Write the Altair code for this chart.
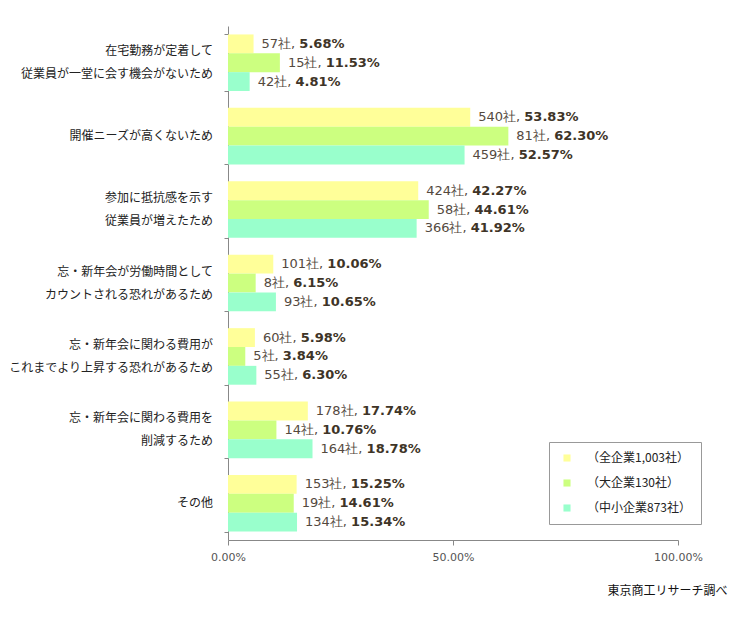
import altair as alt
import pandas as pd

categories = [
    "在宅勤務が定着して\n従業員が一堂に会す機会がないため",
    "開催ニーズが高くないため",
    "参加に抵抗感を示す\n従業員が増えたため",
    "忘・新年会が労働時間として\nカウントされる恐れがあるため",
    "忘・新年会に関わる費用が\nこれまでより上昇する恐れがあるため",
    "忘・新年会に関わる費用を\n削減するため",
    "その他",
]
series = ["（全企業1,003社）", "（大企業130社）", "（中小企業873社）"]
colors = ["#FFFF99", "#CCFF80", "#99FFCC"]

all_counts = [57, 540, 424, 101, 60, 178, 153]
all_pct = [5.68, 53.83, 42.27, 10.06, 5.98, 17.74, 15.25]
large_counts = [15, 81, 58, 8, 5, 14, 19]
large_pct = [11.53, 62.30, 44.61, 6.15, 3.84, 10.76, 14.61]
small_counts = [42, 459, 366, 93, 55, 164, 134]
small_pct = [4.81, 52.57, 41.92, 10.65, 6.30, 18.78, 15.34]

PLOT_W = 450

rows = []
for s, cnts, pcts in zip(series, [all_counts, large_counts, small_counts],
                         [all_pct, large_pct, small_pct]):
    for c, n, p in zip(categories, cnts, pcts):
        lead = f"{n}社, "
        # approximate pixel width of the lead text (13px DejaVu Sans + CJK glyph)
        w = len(str(n)) * 8.27 + 13 + 8.27
        rows.append({"cat": c, "series": s, "value": p / 100.0,
                     "lead": lead, "pct": f"{p:.2f}%",
                     "xpos": p / 100.0 + (8 + w) / PLOT_W})
df = pd.DataFrame(rows)

lab_rows = []
for c in categories:
    parts = c.split("\n")
    if len(parts) == 2:
        lab_rows.append({"cat": c, "top": parts[0], "bot": parts[1], "single": ""})
    else:
        lab_rows.append({"cat": c, "top": "", "bot": "", "single": parts[0]})
labdf = pd.DataFrame(lab_rows)

y_scale = alt.Scale(domain=categories, paddingInner=0.23, paddingOuter=0.115)
y_enc = alt.Y("cat:N", sort=categories, title=None, scale=y_scale,
              axis=alt.Axis(labels=False, tickBand="extent", tickSize=4,
                            tickColor="#888888", domainColor="#888888"))
yoff = alt.YOffset("series:N", sort=series, scale=alt.Scale(paddingInner=0, paddingOuter=0))
x_enc = alt.X("value:Q", title=None,
              scale=alt.Scale(domain=[0, 1], nice=False),
              axis=alt.Axis(values=[0, 0.5, 1], format=".2%", grid=False,
                            tickSize=5, tickColor="#888888", domainColor="#888888",
                            labelFontSize=11, labelFont="DejaVu Sans",
                            labelColor="#555555", labelPadding=6, labelFlush=False))

base = alt.Chart(df)

bars = base.mark_bar().encode(
    x=x_enc, y=y_enc, yOffset=yoff,
    color=alt.Color("series:N", sort=series,
                    scale=alt.Scale(domain=series, range=colors),
                    legend=alt.Legend(title=None, orient="none", legendX=321, legendY=416,
                                      symbolType="square", symbolSize=50,
                                      symbolStrokeWidth=0, labelFontSize=12,
                                      labelFont="Noto Sans CJK JP", labelColor="#222222",
                                      strokeColor="#999999", padding=10, rowPadding=13,
                                      labelOffset=14, symbolOffset=2)),
)

lead_text = base.mark_text(align="left", baseline="middle", dx=8, fontSize=13,
                           font="DejaVu Sans", color="#54493e").encode(
    x="value:Q", y=alt.Y("cat:N", sort=categories), yOffset=yoff, text="lead:N")

pct_text = base.mark_text(align="left", baseline="middle", fontSize=13,
                          font="DejaVu Sans", fontWeight="bold", color="#3e3427").encode(
    x="xpos:Q", y=alt.Y("cat:N", sort=categories), yOffset=yoff, text="pct:N")

lab_base = alt.Chart(labdf)
lab_style = dict(align="right", baseline="middle", fontSize=12,
                 font="Noto Sans CJK JP", color="#222222")
lab_top = lab_base.mark_text(dy=-11.5, **lab_style).encode(
    x=alt.value(-15), y=alt.Y("cat:N", sort=categories), text="top:N")
lab_bot = lab_base.mark_text(dy=11.5, **lab_style).encode(
    x=alt.value(-15), y=alt.Y("cat:N", sort=categories), text="bot:N")
lab_single = lab_base.mark_text(**lab_style).encode(
    x=alt.value(-15), y=alt.Y("cat:N", sort=categories), text="single:N")

chart = alt.layer(bars, lead_text, pct_text, lab_top, lab_bot, lab_single).properties(
    width=PLOT_W, height=514,
    autosize=alt.AutoSizeParams(type="none"),
    padding={"left": 228, "top": 26, "right": 67, "bottom": 77},
    title=alt.TitleParams("東京商工リサーチ調べ", orient="bottom", anchor="end",
                          font="Noto Sans CJK JP", fontSize=12, fontWeight="normal",
                          color="#111111", dx=25, offset=24),
).configure_view(stroke=None)

chart.save("out.html", embed_options={"renderer": "svg", "actions": False})
